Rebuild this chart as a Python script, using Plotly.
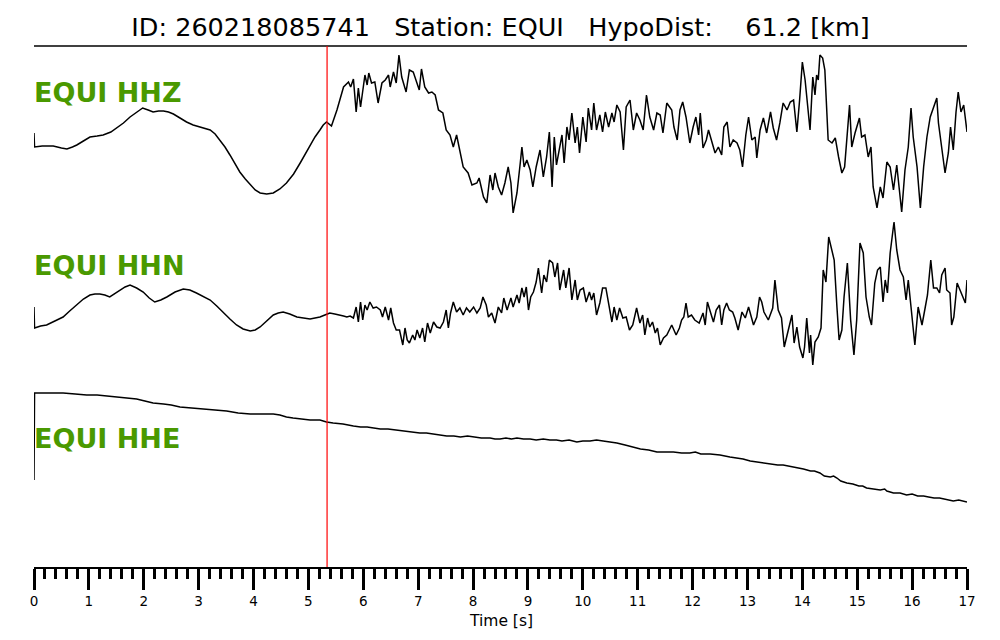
import plotly.graph_objects as go

# ---------------- data ----------------
# time in seconds, amplitude in arbitrary counts (relative to trace baseline)
t_hhz = [0.00, 0.01, 0.15, 0.35, 0.50, 0.60, 0.70, 0.78, 0.90, 1.02,
         1.15, 1.26, 1.40, 1.51, 1.63, 1.75, 1.87, 1.98, 2.08, 2.17,
         2.27, 2.36, 2.45, 2.54, 2.66, 2.78, 2.90, 3.02, 3.12, 3.21,
         3.30, 3.39, 3.48, 3.57, 3.66, 3.75, 3.85, 3.94, 4.03, 4.12,
         4.24, 4.36, 4.48, 4.60, 4.73, 4.85, 4.94, 5.03, 5.12, 5.21,
         5.27, 5.33, 5.42, 5.52, 5.58,
         5.64, 5.73, 5.77, 5.82, 5.87, 5.91, 5.95, 6.03, 6.07, 6.10,
         6.15, 6.21, 6.27, 6.34, 6.40, 6.46, 6.49, 6.55, 6.60, 6.65,
         6.70, 6.78, 6.84, 6.91, 6.97, 7.02, 7.06, 7.12, 7.19, 7.25,
         7.31, 7.37, 7.45, 7.51, 7.58, 7.64, 7.70, 7.76, 7.82, 7.91,
         7.98, 8.07, 8.11, 8.19, 8.25, 8.31, 8.36, 8.40, 8.46, 8.52,
         8.58, 8.64, 8.69, 8.73, 8.80, 8.86, 8.89, 8.93, 8.98, 9.04,
         9.09, 9.15, 9.22, 9.28, 9.34, 9.39, 9.44, 9.48, 9.52, 9.57,
         9.62, 9.66, 9.71, 9.75, 9.80, 9.86, 9.90, 9.94, 10.00, 10.06,
         10.10, 10.16, 10.20, 10.25, 10.31, 10.36, 10.41, 10.47, 10.53, 10.57,
         10.62, 10.68, 10.74, 10.79, 10.86, 10.92, 10.98, 11.04, 11.10, 11.16,
         11.22, 11.29, 11.35, 11.41, 11.46, 11.53, 11.62, 11.66, 11.72, 11.77,
         11.82, 11.88, 11.95, 12.01, 12.06, 12.11, 12.14, 12.19, 12.25, 12.29,
         12.35, 12.41, 12.47, 12.53, 12.57, 12.63, 12.68, 12.74, 12.81, 12.86,
         12.91, 12.97, 13.02, 13.08, 13.14, 13.17, 13.23, 13.29, 13.35, 13.42,
         13.47, 13.53, 13.59, 13.65, 13.72, 13.78, 13.84, 13.90, 13.95, 14.00,
         14.05, 14.08, 14.14, 14.19, 14.23, 14.26, 14.29, 14.32, 14.37, 14.41,
         14.47, 14.54, 14.60, 14.66, 14.72, 14.77, 14.81, 14.86, 14.90, 14.96,
         15.04, 15.08, 15.14, 15.20, 15.25, 15.29, 15.36, 15.42, 15.47, 15.54,
         15.60, 15.66, 15.72, 15.77, 15.81, 15.87, 15.93, 15.98, 16.02, 16.09,
         16.15, 16.21, 16.27, 16.33, 16.39, 16.45, 16.48, 16.54, 16.60, 16.66,
         16.70, 16.75, 16.80, 16.84, 16.89, 16.94, 17.00]
a_hhz = [12, -2, -1, -1, -3, -4, -2, 0, 4, 8,
         9, 10, 13, 17, 22, 28, 33, 37, 35, 33,
         34, 34, 33, 31, 27, 23, 20, 18, 17, 15,
         11, 5, -2, -10, -18, -27, -34, -40, -45, -48,
         -49, -48, -44, -38, -29, -18, -9, 0, 8, 15,
         20, 23, 19, 35, 48,
         58, 63, 58, 66, 33, 57, 38, 70, 60, 72,
         62, 63, 42, 62, 65, 70, 58, 73, 62, 90,
         68, 53, 75, 73, 62, 55, 76, 58, 52, 53,
         50, 35, 32, 15, 10, -2, 10, -5, -22, -28,
         -40, -38, -33, -52, -58, -30, -45, -28, -42, -50,
         -38, -22, -38, -68, -48, -18, -2, -22, -15, -25,
         -42, -22, -5, -32, -12, 13, -42, 8, -20, -5,
         10, -18, 18, 5, 32, 2, 18, -8, 28, 3,
         37, 15, 42, 15, 30, 13, 33, 18, 32, 23,
         40, 33, -5, 38, 45, 15, 32, 25, 15, 50,
         28, 15, 32, 30, 12, 42, 35, 18, 5, 35,
         43, 28, 2, 18, 28, 10, 32, -3, 5, 15,
         2, -8, -2, -10, 18, 23, -2, 5, 2, -5,
         -22, 10, 28, 5, 8, -13, 15, 27, 12, 33,
         17, 5, 22, 42, 35, 43, 45, 13, 45, 83,
         65, 47, 15, 68, 50, 70, 65, 90, 87, 75,
         5, 2, 7, -12, -28, -22, 3, 40, -2, 12,
         27, 8, 10, -12, -2, -42, -63, -42, -53, -17,
         -22, -45, -20, -48, -67, -25, -2, 37, 8, -22,
         -63, -22, 8, 28, 37, 47, 22, -5, -28, -8,
         18, -5, 33, 53, 33, 40, 13]

t_hhn = [0.00, 0.01, 0.12, 0.23, 0.38, 0.53, 0.65, 0.78, 0.90, 1.02,
         1.11, 1.20, 1.29, 1.38, 1.47, 1.57, 1.66, 1.75, 1.87, 1.99,
         2.10, 2.20, 2.31, 2.42, 2.57, 2.72, 2.84, 2.96, 3.08, 3.21,
         3.33, 3.45, 3.57, 3.69, 3.81, 3.94, 4.03, 4.12, 4.24, 4.36,
         4.45, 4.54, 4.66, 4.79, 4.91, 5.03, 5.12, 5.21, 5.30, 5.39,
         5.48, 5.58, 5.64, 5.70, 5.76, 5.82, 5.87,
         5.91, 5.95, 5.99, 6.03, 6.07, 6.12, 6.18, 6.24, 6.31, 6.35,
         6.40, 6.46, 6.50, 6.55, 6.60, 6.66, 6.72, 6.76, 6.80, 6.84,
         6.90, 6.94, 6.98, 7.03, 7.08, 7.12, 7.17, 7.22, 7.28, 7.34,
         7.40, 7.46, 7.51, 7.55, 7.59, 7.64, 7.70, 7.76, 7.82, 7.88,
         7.94, 8.01, 8.07, 8.13, 8.18, 8.24, 8.28, 8.34, 8.40, 8.46,
         8.52, 8.56, 8.62, 8.69, 8.73, 8.80, 8.84, 8.89, 8.93, 8.97,
         9.01, 9.05, 9.10, 9.15, 9.19, 9.25, 9.29, 9.34, 9.39, 9.45,
         9.49, 9.54, 9.58, 9.65, 9.69, 9.75, 9.80, 9.86, 9.90, 9.95,
         10.01, 10.06, 10.12, 10.16, 10.20, 10.25, 10.31, 10.36, 10.42, 10.47,
         10.53, 10.57, 10.62, 10.67, 10.73, 10.79, 10.85, 10.91, 10.98, 11.04,
         11.09, 11.13, 11.18, 11.22, 11.27, 11.32, 11.36, 11.41, 11.47, 11.53,
         11.62, 11.70, 11.76, 11.80, 11.84, 11.88, 11.92, 11.98, 12.04, 12.12,
         12.19, 12.23, 12.27, 12.33, 12.38, 12.43, 12.49, 12.53, 12.57, 12.62,
         12.67, 12.73, 12.77, 12.83, 12.90, 12.96, 13.02, 13.11, 13.17, 13.22,
         13.26, 13.30, 13.38, 13.46, 13.50, 13.56, 13.62, 13.67, 13.72, 13.81,
         13.85, 13.90, 13.95, 14.01, 14.04, 14.08, 14.13, 14.15, 14.19, 14.23,
         14.29, 14.34, 14.38, 14.43, 14.48, 14.54, 14.58, 14.63, 14.67, 14.72,
         14.76, 14.82, 14.88, 14.94, 14.99, 15.05, 15.11, 15.16, 15.22, 15.26,
         15.32, 15.37, 15.42, 15.47, 15.51, 15.55, 15.60, 15.67, 15.72, 15.78,
         15.84, 15.89, 15.93, 15.98, 16.05, 16.11, 16.18, 16.24, 16.28, 16.34,
         16.39, 16.45, 16.50, 16.54, 16.60, 16.63, 16.69, 16.72, 16.76, 16.82,
         16.87, 16.93, 16.97, 17.00]
a_hhn = [13, -8, -6, -5, -1, 3, 9, 15, 21, 25,
         26, 26, 25, 23, 26, 30, 33, 35, 32, 28,
         22, 18, 20, 23, 28, 31, 30, 27, 24, 20,
         14, 7, 1, -5, -9, -11, -10, -7, -1, 5,
         7, 8, 6, 3, 2, 1, 2, 3, 5, 7,
         6, 5, 4, 3, 4, 2, 13,
         -2, 18, 0, 15, 10, 18, 12, 13, 10, 3,
         13, 0, 12, -3, -10, -10, -25, -8, -20, -23,
         -15, -20, -10, -18, -8, -22, -3, -13, -2, -7,
         -8, -2, 10, -8, 7, 18, 8, 12, 5, 12,
         8, 13, 7, 12, 23, 15, 3, 7, -3, 13,
         7, 22, 10, 22, 13, 25, 17, 32, 23, 33,
         10, 23, 28, 38, 52, 27, 45, 38, 60, 57,
         43, 57, 30, 50, 32, 52, 20, 40, 20, 30,
         32, 18, 28, 20, 27, 5, 17, 32, 32, 17,
         -2, 13, 0, 12, 2, 3, -10, -5, 12, -3,
         5, -15, 2, -7, -2, -13, -8, -25, -18, -15,
         -5, -15, -8, 0, 3, 17, 3, 5, 0, -3,
         7, -5, 18, 7, -2, 10, 15, -5, 10, 17,
         10, 8, 2, -10, 8, 2, 13, -5, 3, 23,
         18, 8, 0, 12, 40, 10, 2, -27, -15, 5,
         -23, -7, -27, -38, -27, 2, -33, -15, -45, -22,
         -17, -8, 50, 38, 83, 67, 60, 13, -20, -10,
         23, 57, 0, -35, 0, 77, 67, 23, 3, -5,
         37, 50, 53, 18, 40, 27, 67, 98, 70, 50,
         43, 20, 40, 13, -25, 13, -5, 13, 25, 60,
         32, 32, 27, 45, 52, 30, 27, -5, 3, 37,
         30, 23, 17, 40]

t_hhe = [0.00, 0.01, 0.25, 0.53, 0.75, 0.96, 1.15, 1.32, 1.60, 1.87,
         2.02, 2.17, 2.36, 2.50, 2.66, 2.90, 3.15, 3.33, 3.51, 3.72,
         3.94, 4.15, 4.36, 4.48, 4.60, 4.72, 4.85, 5.03, 5.21, 5.33,
         5.45, 5.63, 5.82, 5.95, 6.07, 6.19, 6.31, 6.45, 6.60, 6.73,
         6.88, 7.03, 7.15, 7.28, 7.40, 7.52, 7.65, 7.77, 7.90, 8.01,
         8.15, 8.31, 8.40, 8.49, 8.60, 8.70, 8.80, 8.92, 9.04, 9.15,
         9.28, 9.40, 9.52, 9.62, 9.75, 9.89, 10.00, 10.13, 10.25, 10.37,
         10.50, 10.62, 10.77, 10.92, 11.05, 11.20, 11.35, 11.50, 11.65, 11.80,
         11.95, 12.05, 12.15, 12.32, 12.50, 12.68, 12.80, 12.92, 13.05, 13.17,
         13.30, 13.42, 13.55, 13.65, 13.75, 13.88, 14.02, 14.15, 14.22, 14.32,
         14.40, 14.51, 14.57, 14.63, 14.70, 14.81, 14.92, 15.03, 15.10, 15.17,
         15.30, 15.42, 15.50, 15.54, 15.66, 15.78, 15.90, 16.00, 16.10, 16.21,
         16.30, 16.40, 16.50, 16.57, 16.65, 16.75, 16.85, 16.97, 17.00]
a_hhe = [-40, 47, 47, 47, 46, 45, 45, 44, 43, 41,
         39, 37, 36, 35, 33, 32, 31, 30, 29, 27,
         26, 26, 26, 25, 23, 22, 21, 20, 20, 18,
         17, 16, 14, 13, 13, 12, 11, 11, 10, 9,
         8, 7, 7, 6, 5, 4, 4, 3, 4, 3,
         2, 2, 1, 1, 2, 1, 2, 1, 1, 0,
         1, 0, 0, -1, 0, -2, -1, -1, 0, -1,
         -2, -3, -5, -7, -9, -10, -12, -12, -12, -13,
         -13, -12, -14, -14, -15, -17, -18, -19, -21, -22,
         -23, -24, -25, -25, -26, -28, -29, -31, -31, -33,
         -36, -37, -36, -38, -41, -43, -44, -46, -46, -48,
         -49, -50, -49, -51, -53, -53, -55, -54, -56, -56,
         -57, -58, -58, -59, -60, -61, -60, -62, -62]

channels = ["EQUI HHZ", "EQUI HHN", "EQUI HHE"]
pick_time = 5.34          # red marker [s]
x_ticks = list(range(0, 18))
title_text = "ID: 260218085741   Station: EQUI   HypoDist:    61.2 [km]"

# ---------------- figure ----------------
NB = "\u00a0"
fig = go.Figure()
series = [(t_hhz, a_hhz, "y"), (t_hhn, a_hhn, "y2"), (t_hhe, a_hhe, "y3")]
for (tt, aa, ya) in series:
    n = min(len(tt), len(aa))
    fig.add_trace(go.Scatter(x=tt[:n], y=aa[:n], yaxis=ya, mode="lines",
                             line=dict(color="black", width=1.5),
                             showlegend=False, hoverinfo="skip"))

font_main = "DejaVu Sans"
W, H = 992, 632   # page body has an 8px margin inside the 1000x640 window
fig.update_layout(
    width=W, height=H, autosize=False,
    margin=dict(l=26, r=33, t=38, b=73, pad=0),
    paper_bgcolor="white", plot_bgcolor="white",
    title=dict(text=title_text.replace(" ", NB), x=0.5, xref="paper", xanchor="center",
               y=1 - 19 / H, yref="container", yanchor="middle",
               font=dict(family=font_main, size=25.5, color="black")),
    xaxis=dict(range=[0, 17], anchor="y3", showline=True, linecolor="black", linewidth=2,
               ticks="outside", ticklen=21, tickwidth=2.5, tickcolor="black",
               tickvals=x_ticks, ticktext=[str(v) for v in x_ticks],
               tickfont=dict(family=font_main, size=13.5, color="black"),
               minor=dict(ticks="outside", dtick=0.2, tick0=0, ticklen=10,
                          tickwidth=2.5, tickcolor="black", showgrid=False),
               showgrid=False, zeroline=False),
    yaxis=dict(domain=[0.6699, 1.0], range=[-73, 99], visible=False, anchor="x"),
    yaxis2=dict(domain=[0.3493, 0.6699], range=[-65, 102], visible=False, anchor="x"),
    yaxis3=dict(domain=[0.0, 0.3493], range=[-127, 55], visible=False, anchor="x"),
)

# axis title
fig.add_annotation(text="Time" + NB + "[s]", xref="paper", yref="paper", x=0.5, y=0,
                   xanchor="center", yanchor="middle", yshift=-54, showarrow=False,
                   font=dict(family=font_main, size=15.5, color="black"))
# title underline
fig.add_shape(type="line", xref="paper", yref="paper", x0=0, x1=1, y0=1, y1=1,
              line=dict(color="black", width=1.5))
# pick marker
fig.add_shape(type="line", xref="x", yref="paper", x0=pick_time, x1=pick_time, y0=0, y1=1,
              line=dict(color="#ff0000", width=1.2))

label_y = [0.911, 0.578, 0.246]
for name, ly in zip(channels, label_y):
    fig.add_annotation(text=name.replace(" ", NB), xref="paper", yref="paper", x=0, y=ly,
                       xanchor="left", yanchor="middle", showarrow=False, xshift=-2,
                       font=dict(family=font_main, size=27, color="#4a9900", weight="bold"))

fig.write_html("out.html")
